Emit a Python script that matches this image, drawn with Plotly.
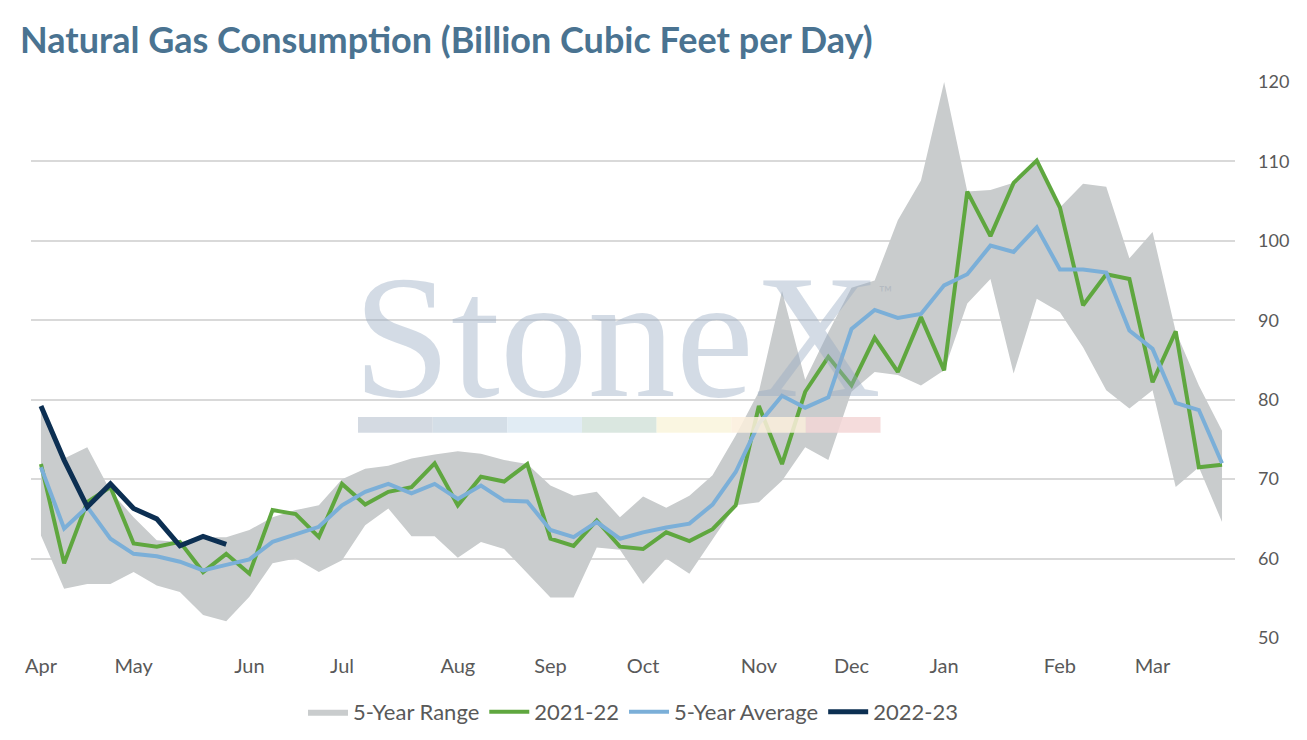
import plotly.graph_objects as go

# weekly data, week 0 = first week of April
weeks = list(range(52))
month_ticks = [0, 4, 9, 13, 18, 22, 26, 31, 35, 39, 44, 48]
month_labels = ["Apr", "May", "Jun", "Jul", "Aug", "Sep", "Oct", "Nov", "Dec", "Jan", "Feb", "Mar"]

range_low = [62.9, 56.2, 56.8, 56.8, 58.3, 56.6, 55.8, 52.9, 52.1, 55.2,
             59.4, 60.0, 58.3, 59.8, 64.2, 66.3, 62.8, 62.8, 60.1, 62.1,
             61.2, 58.1, 55.1, 55.1, 61.4, 61.1, 56.8, 60.0, 58.1, 62.4,
             66.7, 67.1, 69.8, 74.0, 72.4, 81.0, 83.5, 83.1, 81.8, 83.7,
             92.1, 95.2, 83.3, 92.7, 91.0, 86.6, 81.2, 78.9, 81.2, 69.0,
             71.5, 64.6]
range_high = [78.5, 72.6, 74.0, 68.5, 65.2, 62.3, 62.1, 62.7, 62.7, 63.6,
              65.2, 66.1, 66.7, 70.0, 71.3, 71.7, 72.6, 73.1, 73.5, 73.2,
              72.4, 71.9, 69.2, 67.9, 68.4, 65.2, 67.8, 66.4, 67.9, 70.5,
              75.5, 81.0, 93.7, 82.5, 88.5, 94.1, 95.0, 102.6, 107.6, 120.0,
              106.2, 106.4, 107.3, 110.1, 104.2, 107.2, 106.8, 97.8, 101.1, 88.6,
              81.8, 76.1]
y2021 = [71.9, 59.4, 67.1, 69.0, 61.9, 61.5, 62.1, 58.3, 60.6, 58.1,
         66.1, 65.6, 62.7, 69.4, 66.8, 68.4, 69.0, 72.0, 66.7, 70.3,
         69.7, 71.9, 62.5, 61.6, 64.8, 61.5, 61.2, 63.3, 62.2, 63.7,
         66.7, 79.2, 71.9, 81.0, 85.4, 81.8, 87.8, 83.5, 90.4, 83.7,
         106.2, 100.6, 107.3, 110.1, 104.2, 91.9, 95.8, 95.2, 82.2, 88.6,
         71.5, 71.8]
avg5 = [71.5, 63.8, 66.5, 62.5, 60.6, 60.3, 59.6, 58.5, 59.2, 59.9,
        62.1, 63.1, 64.0, 66.7, 68.4, 69.4, 68.2, 69.4, 67.5, 69.2,
        67.3, 67.2, 63.6, 62.7, 64.6, 62.5, 63.3, 63.9, 64.4, 66.8,
        70.9, 77.0, 80.5, 79.0, 80.3, 88.9, 91.3, 90.3, 90.8, 94.4,
        95.8, 99.4, 98.6, 101.7, 96.4, 96.4, 96.0, 88.7, 86.4, 79.6,
        78.7, 72.0]
y2022 = [79.2, 72.4, 66.5, 69.4, 66.3, 65.0, 61.6, 62.8, 61.8]

GREY_TXT = "#595959"

fig = go.Figure()
fig.add_trace(go.Scatter(x=weeks, y=range_low, mode="lines", line=dict(width=0),
                         showlegend=False, hoverinfo="skip"))
fig.add_trace(go.Scatter(x=weeks, y=range_high, mode="lines", line=dict(width=0),
                         fill="tonexty", fillcolor="#c9cccd", name="5-Year Range"))
fig.add_trace(go.Scatter(x=weeks, y=y2021, mode="lines", name="2021-22",
                         line=dict(color="#5fa73f", width=4)))
fig.add_trace(go.Scatter(x=weeks, y=avg5, mode="lines", name="5-Year Average",
                         line=dict(color="#7bafd8", width=4)))
fig.add_trace(go.Scatter(x=weeks[:len(y2022)], y=y2022, mode="lines", name="2022-23",
                         line=dict(color="#0c2f52", width=5)))

# StoneX watermark
fig.add_annotation(text="StoneX", xref="paper", yref="paper", x=0.487, y=0.543,
                   xanchor="center", yanchor="middle", showarrow=False,
                   font=dict(family="Liberation Serif", size=176, color="rgba(150,170,192,0.42)"))
fig.add_annotation(text="™", xref="paper", yref="paper", x=0.718, y=0.622,
                   showarrow=False, font=dict(family="Lato", size=18, color="rgba(150,160,175,0.4)"))
bar_colors = ["#ccd3dd", "#cdd8e3", "#dce9f2", "#d3e3da", "#f9f5dc", "#fbeedc", "#f3d6d6"]
seg = 0.062
for k, c in enumerate(bar_colors):
    fig.add_shape(type="rect", xref="paper", yref="paper",
                  x0=0.2716 + k * seg, x1=0.2716 + (k + 1) * seg, y0=0.369, y1=0.3975,
                  fillcolor=c, opacity=0.85, line=dict(width=0), layer="above")

fig.update_layout(
    width=1307, height=740,
    margin=dict(l=31, r=72, t=82, b=102, autoexpand=False),
    plot_bgcolor="white", paper_bgcolor="white",
    font=dict(family="Lato", color=GREY_TXT, size=18),
    title=dict(text="<b>Natural Gas Consumption (Billion Cubic Feet per Day)</b>",
               x=20 / 1307, xref="container", xanchor="left",
               y=1 - 40 / 740, yref="container", yanchor="middle",
               font=dict(family="Lato", size=36, color="#4a7391")),
    legend=dict(orientation="h", x=0.5, xanchor="center", y=-0.133, yanchor="middle",
                traceorder="normal", font=dict(size=22, color=GREY_TXT),
                itemwidth=40, tracegroupgap=0),
    showlegend=True,
)
fig.update_xaxes(range=[-0.43, 51.56], tickmode="array", tickvals=month_ticks,
                 ticktext=month_labels, showgrid=False, zeroline=False, showline=False,
                 ticks="", ticklabelstandoff=14, automargin=False,
                 tickfont=dict(size=20, color=GREY_TXT))
fig.update_yaxes(range=[50, 120], dtick=10, side="right", showgrid=True,
                 gridcolor="#d9d9d9", gridwidth=1.5, zeroline=False, showline=False,
                 ticks="", ticklabelstandoff=22, automargin=False,
                 tickfont=dict(size=18, color=GREY_TXT))

fig.write_html("out.html", config={"displayModeBar": False},
               post_script="document.body.style.margin='0';")
